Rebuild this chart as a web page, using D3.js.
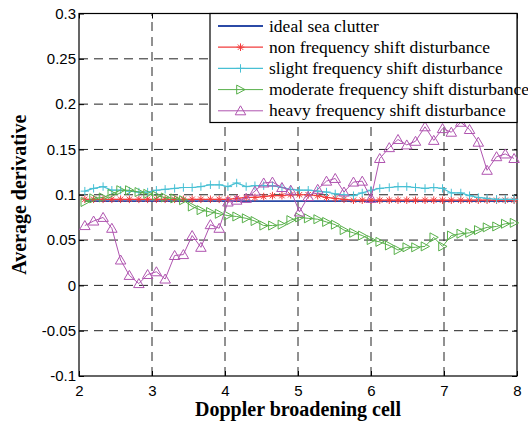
<!DOCTYPE html>
<html>
<head>
<meta charset="utf-8">
<script src="https://cdn.jsdelivr.net/npm/d3@7"></script>
<style>
  body { margin: 0; background: #fff; }
  svg text { font-family: "Liberation Sans", Arial, sans-serif; }
</style>
</head>
<body>
<div id="vis-holder"></div>
<script>
// Data
const cells = [2.08, 2.20, 2.33, 2.45, 2.57, 2.69, 2.82, 2.94, 3.06, 3.18, 3.31, 3.43, 3.55, 3.67, 3.80, 3.92,
  4.04, 4.16, 4.29, 4.41, 4.53, 4.65, 4.78, 4.90, 5.02, 5.14, 5.27, 5.39, 5.51, 5.63, 5.76, 5.88,
  6.00, 6.12, 6.25, 6.37, 6.49, 6.61, 6.74, 6.86, 6.98, 7.10, 7.23, 7.35, 7.47, 7.59, 7.72, 7.84, 7.96];

const ideal = [0.093, 0.093, 0.093, 0.093, 0.093, 0.093, 0.093, 0.093, 0.093, 0.093, 0.093, 0.093, 0.093, 0.093, 0.093, 0.093,
  0.093, 0.093, 0.093, 0.093, 0.093, 0.093, 0.093, 0.093, 0.093, 0.093, 0.093, 0.093, 0.093, 0.093, 0.093, 0.093,
  0.093, 0.093, 0.093, 0.093, 0.093, 0.093, 0.093, 0.093, 0.093, 0.093, 0.093, 0.093, 0.093, 0.093, 0.093, 0.093, 0.093];

const nonShift = [0.095, 0.095, 0.095, 0.095, 0.095, 0.095, 0.095, 0.095, 0.095, 0.095, 0.095, 0.095, 0.095, 0.095, 0.095, 0.095,
  0.095, 0.096, 0.097, 0.097, 0.098, 0.099, 0.099, 0.100, 0.100, 0.100, 0.099, 0.097, 0.096, 0.095, 0.094, 0.094,
  0.094, 0.094, 0.094, 0.094, 0.094, 0.094, 0.094, 0.094, 0.094, 0.094, 0.094, 0.094, 0.094, 0.094, 0.094, 0.094, 0.094];

const slightShift = [0.104, 0.107, 0.109, 0.105, 0.105, 0.104, 0.103, 0.103, 0.105, 0.106, 0.107, 0.108, 0.108, 0.109, 0.111, 0.111,
  0.109, 0.113, 0.109, 0.110, 0.110, 0.110, 0.108, 0.106, 0.105, 0.105, 0.104, 0.103, 0.101, 0.100, 0.099, 0.102,
  0.105, 0.107, 0.108, 0.109, 0.109, 0.108, 0.107, 0.108, 0.107, 0.102, 0.102, 0.099, 0.097, 0.096, 0.095, 0.095, 0.095];

const moderateShift = [0.092, 0.096, 0.097, 0.101, 0.105, 0.105, 0.103, 0.101, 0.099, 0.097, 0.096, 0.094, 0.087, 0.083, 0.081, 0.079,
  0.077, 0.076, 0.074, 0.071, 0.066, 0.066, 0.067, 0.072, 0.075, 0.074, 0.073, 0.070, 0.067, 0.061, 0.058, 0.055,
  0.050, 0.048, 0.044, 0.039, 0.042, 0.042, 0.043, 0.053, 0.043, 0.055, 0.057, 0.058, 0.061, 0.064, 0.065, 0.068, 0.069];

const heavyShift = [0.066, 0.071, 0.075, 0.063, 0.028, 0.011, 0.002, 0.012, 0.015, 0.007, 0.033, 0.034, 0.055, 0.042, 0.067, 0.063,
  0.092, 0.094, 0.096, 0.104, 0.113, 0.114, 0.108, 0.105, 0.081, 0.098, 0.106, 0.115, 0.118, 0.103, 0.114, 0.115,
  0.096, 0.140, 0.152, 0.161, 0.155, 0.159, 0.175, 0.160, 0.173, 0.169, 0.180, 0.172, 0.158, 0.127, 0.142, 0.145, 0.140];

const seriesNames = ["ideal sea clutter", "non frequency shift disturbance", "slight frequency shift disturbance",
  "moderate frequency shift disturbance", "heavy frequency shift disturbance"];
const xTicks = [2, 3, 4, 5, 6, 7, 8];
const yTicks = [-0.1, -0.05, 0, 0.05, 0.1, 0.15, 0.2, 0.25, 0.3];

const width = 528;
const height = 423;
const margin = { top: 13.5, right: 11, bottom: 47, left: 79 };

const svg = d3.select("#vis-holder")
  .append("svg")
  .attr("width", width)
  .attr("height", height);

const x = d3.scaleLinear().domain([2, 8]).range([margin.left, width - margin.right]);
const y = d3.scaleLinear().domain([-0.1, 0.3]).range([height - margin.bottom, margin.top]);

// grid (dashed, MATLAB style)
svg.append("g")
  .selectAll("line")
  .data(xTicks.slice(1, -1))
  .join("line")
  .attr("x1", d => x(d)).attr("x2", d => x(d))
  .attr("y1", y(-0.1)).attr("y2", y(0.3))
  .attr("stroke", "#222").attr("stroke-width", 1).attr("stroke-dasharray", "9,6");

svg.append("g")
  .selectAll("line")
  .data(yTicks.slice(1, -1))
  .join("line")
  .attr("x1", x(2)).attr("x2", x(8))
  .attr("y1", d => y(d)).attr("y2", d => y(d))
  .attr("stroke", "#222").attr("stroke-width", 1).attr("stroke-dasharray", "9,6");

// axes
svg.append("g")
  .attr("transform", `translate(0,${y(-0.1)})`)
  .call(d3.axisBottom(x).tickValues(xTicks).tickSizeInner(-5).tickSizeOuter(0).tickPadding(9).tickFormat(d3.format("d")))
  .call(g => g.select(".domain").remove())
  .attr("font-size", "15px");

svg.append("g")
  .attr("transform", `translate(${x(2)},0)`)
  .call(d3.axisLeft(y).tickValues(yTicks).tickSizeInner(-5).tickSizeOuter(0).tickPadding(3).tickFormat(d => String(+d.toFixed(2))))
  .call(g => g.select(".domain").remove())
  .attr("font-size", "15px");

// ticks on top and right
svg.append("g")
  .attr("transform", `translate(0,${y(0.3)})`)
  .call(d3.axisTop(x).tickValues(xTicks).tickSizeInner(-5).tickSizeOuter(0).tickFormat(""))
  .call(g => g.select(".domain").remove());
svg.append("g")
  .attr("transform", `translate(${x(8)},0)`)
  .call(d3.axisRight(y).tickValues(yTicks).tickSizeInner(-5).tickSizeOuter(0).tickFormat(""))
  .call(g => g.select(".domain").remove());

svg.selectAll(".tick text").attr("fill", "#000");

// box
svg.append("rect")
  .attr("x", x(2)).attr("y", y(0.3))
  .attr("width", x(8) - x(2)).attr("height", y(-0.1) - y(0.3))
  .attr("fill", "none").attr("stroke", "#000").attr("stroke-width", 1.2);

// markers
function markerPath(kind, s) {
  if (kind === "star") {
    const a = s * 0.7;
    return `M${-s},0L${s},0M0,${-s}L0,${s}M${-a},${-a}L${a},${a}M${-a},${a}L${a},${-a}`;
  }
  if (kind === "plus") return `M${-s},0L${s},0M0,${-s}L0,${s}`;
  if (kind === "right") return `M${-s * 0.85},${-s}L${s},0L${-s * 0.85},${s}Z`;
  if (kind === "up") return `M0,${-s}L${s * 1.05},${s * 0.8}L${-s * 1.05},${s * 0.8}Z`;
  return "";
}

const series = [
  { name: seriesNames[0], values: ideal, color: "#2b4aa6", marker: null, size: 0, width: 1.8 },
  { name: seriesNames[1], values: nonShift, color: "#f23c3c", marker: "star", size: 3.8, width: 1.2 },
  { name: seriesNames[2], values: slightShift, color: "#48c0d4", marker: "plus", size: 4.2, width: 1.2 },
  { name: seriesNames[3], values: moderateShift, color: "#58b04a", marker: "right", size: 4.5, width: 1 },
  { name: seriesNames[4], values: heavyShift, color: "#b055b0", marker: "up", size: 5, width: 1 }
];

const line = d3.line()
  .x((d, i) => x(cells[i]))
  .y(d => y(d));

series.forEach(s => {
  const g = svg.append("g");
  g.append("path")
    .datum(s.values)
    .attr("d", line)
    .attr("fill", "none")
    .attr("stroke", s.color)
    .attr("stroke-width", s.width);
  if (s.marker) {
    g.selectAll(".mk")
      .data(s.values)
      .join("path")
      .attr("class", "mk")
      .attr("transform", (d, i) => `translate(${x(cells[i])},${y(d)})`)
      .attr("d", markerPath(s.marker, s.size))
      .attr("fill", "none")
      .attr("stroke", s.color)
      .attr("stroke-width", 1);
  }
});

// legend
const legX = 210, legY = y(0.3), legW = x(8) - 210, legH = 109;
const legend = svg.append("g");
legend.append("rect")
  .attr("x", legX).attr("y", legY)
  .attr("width", legW).attr("height", legH)
  .attr("fill", "#fff").attr("stroke", "#000").attr("stroke-width", 1.2);

series.forEach((s, i) => {
  const cy = legY + 12.5 + i * 21.2;
  legend.append("line")
    .attr("x1", legX + 8).attr("x2", legX + 53)
    .attr("y1", cy).attr("y2", cy)
    .attr("stroke", s.color).attr("stroke-width", s.width);
  if (s.marker) {
    legend.append("path")
      .attr("transform", `translate(${legX + 30.5},${cy})`)
      .attr("d", markerPath(s.marker, s.size))
      .attr("fill", "none").attr("stroke", s.color).attr("stroke-width", 1);
  }
  legend.append("text")
    .attr("x", legX + 59).attr("y", cy + 5.5)
    .style("font-family", "'Liberation Serif', 'Times New Roman', serif")
    .attr("font-size", "17.5px")
    .attr("fill", "#000")
    .text(s.name);
});

// axis labels
svg.append("text")
  .attr("x", x(5)).attr("y", 416)
  .attr("text-anchor", "middle")
  .style("font-family", "'Liberation Serif', 'Times New Roman', serif")
  .attr("font-weight", "bold")
  .attr("font-size", "20px")
  .text("Doppler broadening cell");

svg.append("text")
  .attr("transform", `translate(26,${y(0.1)}) rotate(-90)`)
  .attr("text-anchor", "middle")
  .style("font-family", "'Liberation Serif', 'Times New Roman', serif")
  .attr("font-weight", "bold")
  .attr("font-size", "20px")
  .text("Average derivative");
</script>
</body>
</html>
